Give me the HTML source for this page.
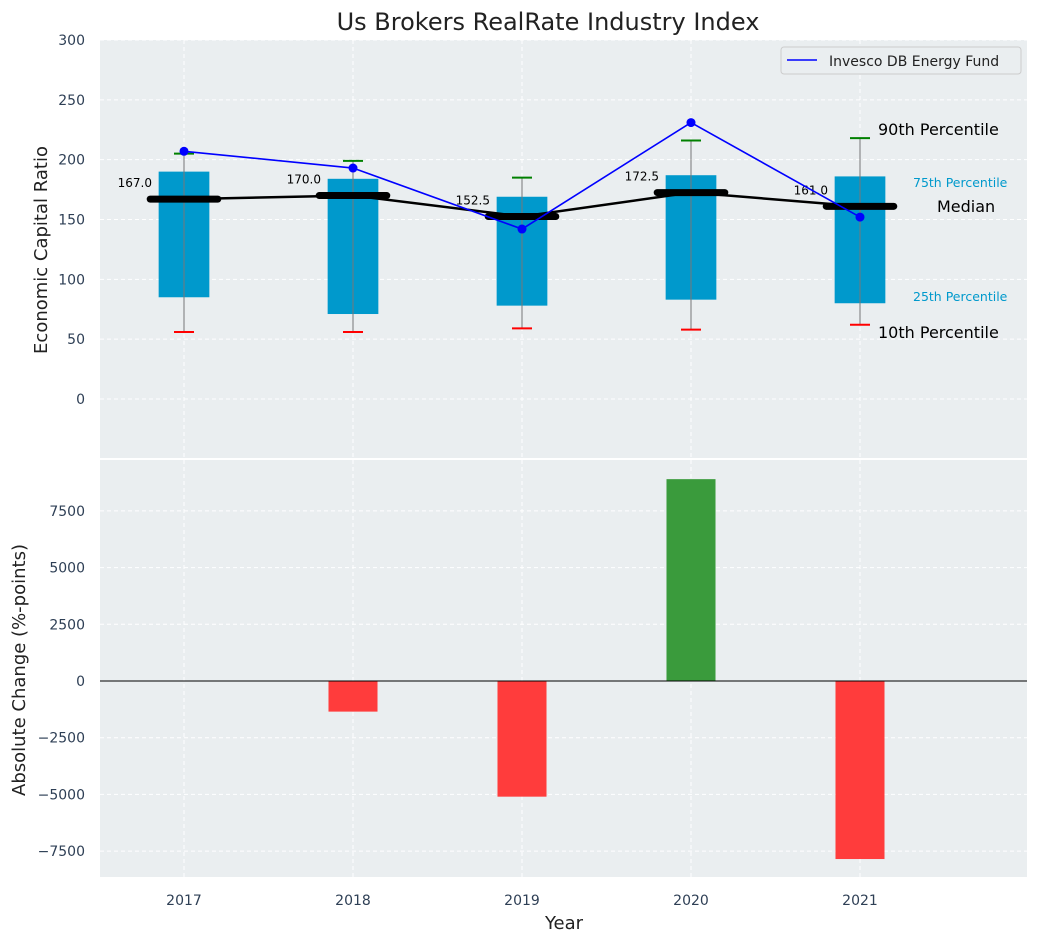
<!DOCTYPE html>
<html><head><meta charset="utf-8"><style>
body{margin:0;background:#fff;font-family:"Liberation Sans","DejaVu Sans",sans-serif}
svg text{font-family:"DejaVu Sans","Liberation Sans",sans-serif}
</style></head><body>
<svg id="c" width="1039" height="942" xmlns="http://www.w3.org/2000/svg"></svg>
<script>
const years=[2017,2018,2019,2020,2021];
const q1=[85,71,78,83,80];
const q3=[190,184,169,187,186];
const p10=[56,56,59,58,62];
const p90=[205,199,185,216,218];
const medians=[167,170,152.5,172.5,161];
const fund=[207,193,142,231,152];
const changes=[0,-1350,-5100,8900,-7850];
const topTicks=[0,50,100,150,200,250,300];
const botTicks=[-7500,-5000,-2500,0,2500,5000,7500];

const svg=document.getElementById('c');
const NS='http://www.w3.org/2000/svg';
function el(t,a,txt){const e=document.createElementNS(NS,t);for(const k in a)e.setAttribute(k,a[k]);if(txt!==undefined)e.textContent=txt;svg.appendChild(e);return e;}
const L=100,R=1027;
const pxu=169;
const x=v=>184+(v-2017)*pxu;
const yT=v=>40+(300-v)/350*(458.8-40);
const yB=v=>681-v/2500*56.7;

let e=el('rect',{x:L,y:40,width:R-L,height:418,fill:'#eaeef0'});

e=el('rect',{x:L,y:460,width:R-L,height:417,fill:'#eaeef0'});

years.forEach(yr=>{
 el('line',{x1:x(yr),x2:x(yr),y1:40,y2:458,stroke:'#fff','stroke-dasharray':'4,3','stroke-width':1});
 el('line',{x1:x(yr),x2:x(yr),y1:460,y2:877,stroke:'#fff','stroke-dasharray':'4,3','stroke-width':1});
 e=el('text',{x:x(yr),y:905,'text-anchor':'middle','font-size':14,fill:'#2e3f55'},yr);
 
});
topTicks.forEach(t=>{
 el('line',{x1:L,x2:R,y1:yT(t),y2:yT(t),stroke:'#fff','stroke-dasharray':'4,3'});
 e=el('text',{x:85,y:yT(t)+5,'text-anchor':'end','font-size':14,fill:'#2e3f55'},t);
 
});
botTicks.forEach(t=>{
 el('line',{x1:L,x2:R,y1:yB(t),y2:yB(t),stroke:'#fff','stroke-dasharray':'4,3'});
 e=el('text',{x:85,y:yB(t)+5,'text-anchor':'end','font-size':14,fill:'#2e3f55'},t<0?'\u2212'+(-t):t);
 
});
years.forEach((yr,i)=>{
 const cx=x(yr),bw=0.3*pxu;
 e=el('rect',{x:cx-bw/2,y:yT(q3[i]),width:bw,height:yT(q1[i])-yT(q3[i]),fill:'#0099cc'});
 
 e=el('line',{x1:cx,x2:cx,y1:yT(p10[i]),y2:yT(p90[i]),stroke:'#777','stroke-width':1});
 
 e=el('line',{x1:cx-10,x2:cx+10,y1:yT(p90[i]),y2:yT(p90[i]),stroke:'green','stroke-width':2});
 
 e=el('line',{x1:cx-10,x2:cx+10,y1:yT(p10[i]),y2:yT(p10[i]),stroke:'red','stroke-width':2});
 
});
e=el('polyline',{points:years.map((yr,i)=>x(yr)+','+yT(medians[i])).join(' '),fill:'none',stroke:'#000','stroke-width':2.5});

years.forEach((yr,i)=>{
 const cx=x(yr),hw=0.2*pxu;
 e=el('line',{x1:cx-hw,x2:cx+hw,y1:yT(medians[i]),y2:yT(medians[i]),stroke:'#000','stroke-width':7,'stroke-linecap':'round'});
 
 e=el('text',{x:cx-32,y:yT(medians[i])-12,'text-anchor':'end','font-size':12,fill:'#000'},medians[i].toFixed(1));
 
});
e=el('polyline',{points:years.map((yr,i)=>x(yr)+','+yT(fund[i])).join(' '),fill:'none',stroke:'blue','stroke-width':1.6});

years.forEach((yr,i)=>{
 e=el('circle',{cx:x(yr),cy:yT(fund[i]),r:4.5,fill:'blue'});
 
});
const ann=[[878,135,'90th Percentile',16,'#000'],[913,187,'75th Percentile',12.5,'#0099cc'],[937,212,'Median',16,'#000'],[913,301,'25th Percentile',12.5,'#0099cc'],[878,338,'10th Percentile',16,'#000']];
ann.forEach(a=>{e=el('text',{x:a[0],y:a[1],'font-size':a[3],fill:a[4]},a[2]);
 });
e=el('rect',{x:781,y:47,width:240,height:27,rx:3,fill:'#eaeef0',stroke:'#ccc'});

el('line',{x1:787,x2:817,y1:60,y2:60,stroke:'blue','stroke-width':1.6});
e=el('text',{x:829,y:66,'font-size':14,fill:'#222'},'Invesco DB Energy Fund');

years.forEach((yr,i)=>{
 const v=changes[i],bw=0.29*pxu;
 e=el('rect',{x:x(yr)-bw/2,y:Math.min(yB(v),yB(0)),width:bw,height:Math.abs(yB(v)-yB(0)),fill:v>=0?'#3a9b3c':'#ff3c3c'});
 
});
el('line',{x1:L,x2:R,y1:yB(0),y2:yB(0),stroke:'#000','stroke-width':1});
e=el('text',{x:548,y:30,'text-anchor':'middle','font-size':24,fill:'#222'},'Us Brokers RealRate Industry Index');

e=el('text',{x:564,y:929,'text-anchor':'middle','font-size':18,fill:'#222'},'Year');

e=el('text',{x:0,y:0,transform:'translate(47,250) rotate(-90)','text-anchor':'middle','font-size':18,fill:'#222'},'Economic Capital Ratio');

e=el('text',{x:0,y:0,transform:'translate(25,670) rotate(-90)','text-anchor':'middle','font-size':18,fill:'#222'},'Absolute Change (%-points)');

</script>
</body></html>
